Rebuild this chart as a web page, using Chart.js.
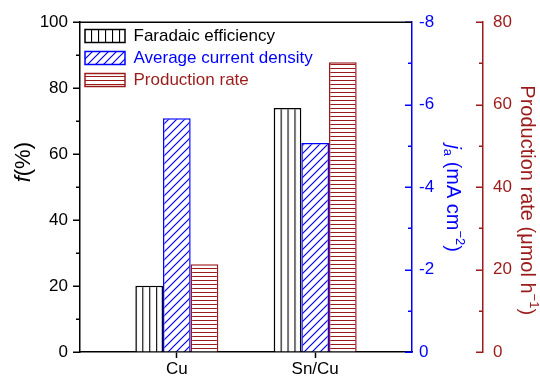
<!DOCTYPE html>
<html>
<head>
<meta charset="utf-8">
<script src="https://cdn.jsdelivr.net/npm/chart.js@4/dist/chart.umd.min.js"></script>
<style>
    html, body { margin: 0; padding: 0; background: #fff; }
    canvas { display: block; }
</style>
</head>
<body>
<canvas id="graph01" width="540" height="376"></canvas>
<script>
const categories = ['Cu', 'Sn/Cu'];
const faradaicEff = [20.1, 74.0];       // f (%)
const currentDensity = [-5.67, -5.07];  // ja (mA cm-2)
const productionRate = [21.3, 70.3];    // umol h-1

const BLACK = '#000000';
const BLUE = '#0000ff';
const WINE = '#9b1b1b';
const FONT = 'Arial, "Liberation Sans", sans-serif';

const canvas = document.getElementById('graph01');
const ctx = canvas.getContext('2d');

// hatch patterns
function makePattern(w, h, color, lw, draw) {
    const c = document.createElement('canvas');
    c.width = w;
    c.height = h;
    const g = c.getContext('2d');
    g.fillStyle = '#fff';
    g.fillRect(0, 0, w, h);
    g.strokeStyle = color;
    g.lineWidth = lw;
    g.beginPath();
    draw(g, w, h);
    g.stroke();
    return ctx.createPattern(c, 'repeat');
}

const vertPattern = makePattern(7, 4, BLACK, 1.2, (g, w, h) => {
    g.moveTo(0.5, 0); g.lineTo(0.5, h);
});
const diagPattern = makePattern(8, 8, BLUE, 1.2, (g, w, h) => {
    g.moveTo(0, h); g.lineTo(w, 0);
    g.moveTo(-1, 1); g.lineTo(1, -1);
    g.moveTo(w - 1, h + 1); g.lineTo(w + 1, h - 1);
});
const horizPattern = makePattern(4, 4, WINE, 1, (g, w, h) => {
    g.moveTo(0, 0.5); g.lineTo(w, 0.5);
});

const seriesColors = [BLACK, BLUE, WINE];

function toPoints(values) {
    return values.map((v, i) => ({ x: i, y: v }));
}

function fixWidth(w) {
    return scale => { scale.width = w; };
}

// minor / major ticks, all pointing left of their axis line, plus top frame
const axisTicks = {
    id: 'axisTicks',
    beforeDatasetsDraw(chart) {
        const bar = chart.getDatasetMeta(0).data[0];
        if (bar && vertPattern.setTransform) {
            const left = bar.x - bar.width / 2;
            vertPattern.setTransform(new DOMMatrix().translate(left, 0).scale(bar.width / 4 / 7, 1));
        }
    },
    afterDraw(chart) {
        const c = chart.ctx;
        const specs = [
            { id: 'y', min: 0, max: 100, minor: 10, major: 20, color: BLACK, side: 'right' },
            { id: 'yJ', min: -8, max: 0, minor: 1, major: 2, color: BLUE, side: 'left' },
            { id: 'yP', min: 0, max: 80, minor: 10, major: 20, color: WINE, side: 'left' }
        ];
        c.save();
        specs.forEach(s => {
            const sc = chart.scales[s.id];
            const x = s.side === 'right' ? sc.right : sc.left;
            c.strokeStyle = s.color;
            c.lineWidth = 1.5;
            c.beginPath();
            for (let k = 0; s.min + k * s.minor <= s.max + 1e-9; k++) {
                const v = s.min + k * s.minor;
                const len = (k % (s.major / s.minor) === 0) ? 7 : 4;
                const py = Math.round(sc.getPixelForValue(v)) + 0.25;
                c.moveTo(x, py);
                c.lineTo(x - len, py);
            }
            c.stroke();
        });
        const a = chart.chartArea;
        c.strokeStyle = BLACK;
        c.lineWidth = 1.5;
        c.beginPath();
        c.moveTo(a.left, a.top);
        c.lineTo(a.right, a.top);
        c.stroke();
        c.restore();
    }
};

// rich axis titles (italic symbol, sub/superscripts)
function drawRich(c, parts, cx, cy, rot, color) {
    c.save();
    c.translate(cx, cy);
    c.rotate(rot);
    c.textBaseline = 'middle';
    c.fillStyle = color;
    let total = 0;
    parts.forEach(p => {
        c.font = p.font;
        p.w = c.measureText(p.t).width;
        total += p.w;
    });
    let x = -total / 2;
    parts.forEach(p => {
        c.font = p.font;
        c.fillText(p.t, x, p.dy || 0);
        x += p.w;
    });
    c.restore();
}

const axisTitles = {
    id: 'axisTitles',
    afterDraw(chart) {
        const c = chart.ctx;
        const a = chart.chartArea;
        const jScale = chart.scales.yJ;
        const pScale = chart.scales.yP;
        drawRich(c, [
            { t: 'f', font: 'italic 22px ' + FONT },
            { t: '(%)', font: '22px ' + FONT }
        ], 24, a.top + 140, -Math.PI / 2, BLACK);
        drawRich(c, [
            { t: 'j', font: 'italic 20px ' + FONT },
            { t: 'a', font: '13px ' + FONT, dy: 5 },
            { t: ' (mA cm', font: '20px ' + FONT },
            { t: '\u22122', font: '13px ' + FONT, dy: -7 },
            { t: ')', font: '20px ' + FONT }
        ], jScale.left + 41, a.top + 176, Math.PI / 2, BLUE);
        drawRich(c, [
            { t: 'Production rate (\u03bcmol h', font: '20px ' + FONT },
            { t: '\u22121', font: '13px ' + FONT, dy: -7 },
            { t: ')', font: '20px ' + FONT }
        ], pScale.left + 44, a.top + 178, Math.PI / 2, WINE);
    }
};

new Chart(canvas, {
    type: 'bar',
    data: {
        datasets: [
            {
                label: 'Faradaic efficiency',
                data: toPoints(faradaicEff),
                yAxisID: 'y',
                backgroundColor: vertPattern,
                borderColor: BLACK,
                borderWidth: 1.5
            },
            {
                label: 'Average current density',
                data: toPoints(currentDensity),
                yAxisID: 'yJ',
                backgroundColor: diagPattern,
                borderColor: BLUE,
                borderWidth: 1.5
            },
            {
                label: 'Production rate',
                data: toPoints(productionRate),
                yAxisID: 'yP',
                backgroundColor: horizPattern,
                borderColor: WINE,
                borderWidth: 1.5
            }
        ]
    },
    options: {
        responsive: false,
        animation: false,
        devicePixelRatio: 1,
        categoryPercentage: 0.6,
        barPercentage: 1,
        layout: { padding: { top: 22, left: 0, right: 0, bottom: 0 } },
        plugins: {
            tooltip: { enabled: false },
            legend: {
                position: 'chartArea',
                align: 'start',
                // empty title only pushes the legend rows down inside the frame
                title: { display: true, text: ' ', font: { size: 10 }, padding: { top: 10.5, bottom: 0 } },
                labels: {
                    boxWidth: 40,
                    boxHeight: 13,
                    padding: 5,
                    font: { family: FONT, size: 17 },
                    generateLabels(chart) {
                        const items = Chart.defaults.plugins.legend.labels.generateLabels(chart);
                        items.forEach((it, i) => { it.fontColor = seriesColors[i]; });
                        return items;
                    }
                }
            }
        },
        scales: {
            x: {
                type: 'linear',
                min: -0.7,
                max: 1.7,
                offset: false,
                afterBuildTicks: scale => {
                    scale.ticks = categories.map((c, i) => ({ value: i }));
                },
                afterFit: scale => { scale.height = 24; },
                ticks: {
                    callback: v => categories[v],
                    color: BLACK,
                    padding: 1,
                    font: { family: FONT, size: 17 },
                    maxRotation: 0
                },
                grid: { offset: false, drawOnChartArea: false, tickLength: 6, tickColor: BLACK, tickWidth: 1.5 },
                border: { color: BLACK, width: 1.5 }
            },
            y: {
                position: 'left',
                min: 0,
                max: 100,
                afterFit: fixWidth(80),
                ticks: { stepSize: 20, color: BLACK, padding: 12, font: { family: FONT, size: 17 } },
                grid: { drawOnChartArea: false, drawTicks: false },
                border: { color: BLACK, width: 1.5 }
            },
            yJ: {
                position: 'right',
                min: -8,
                max: 0,
                reverse: true,
                afterFit: fixWidth(71),
                ticks: { stepSize: 2, color: BLUE, padding: 7, font: { family: FONT, size: 17 } },
                grid: { drawOnChartArea: false, drawTicks: false },
                border: { color: BLUE, width: 1.5 }
            },
            yP: {
                position: 'right',
                min: 0,
                max: 80,
                afterFit: fixWidth(57),
                ticks: { stepSize: 20, color: WINE, padding: 10, font: { family: FONT, size: 17 } },
                grid: { drawOnChartArea: false, drawTicks: false },
                border: { color: WINE, width: 1.5 }
            }
        }
    },
    plugins: [axisTicks, axisTitles]
});
</script>
</body>
</html>
